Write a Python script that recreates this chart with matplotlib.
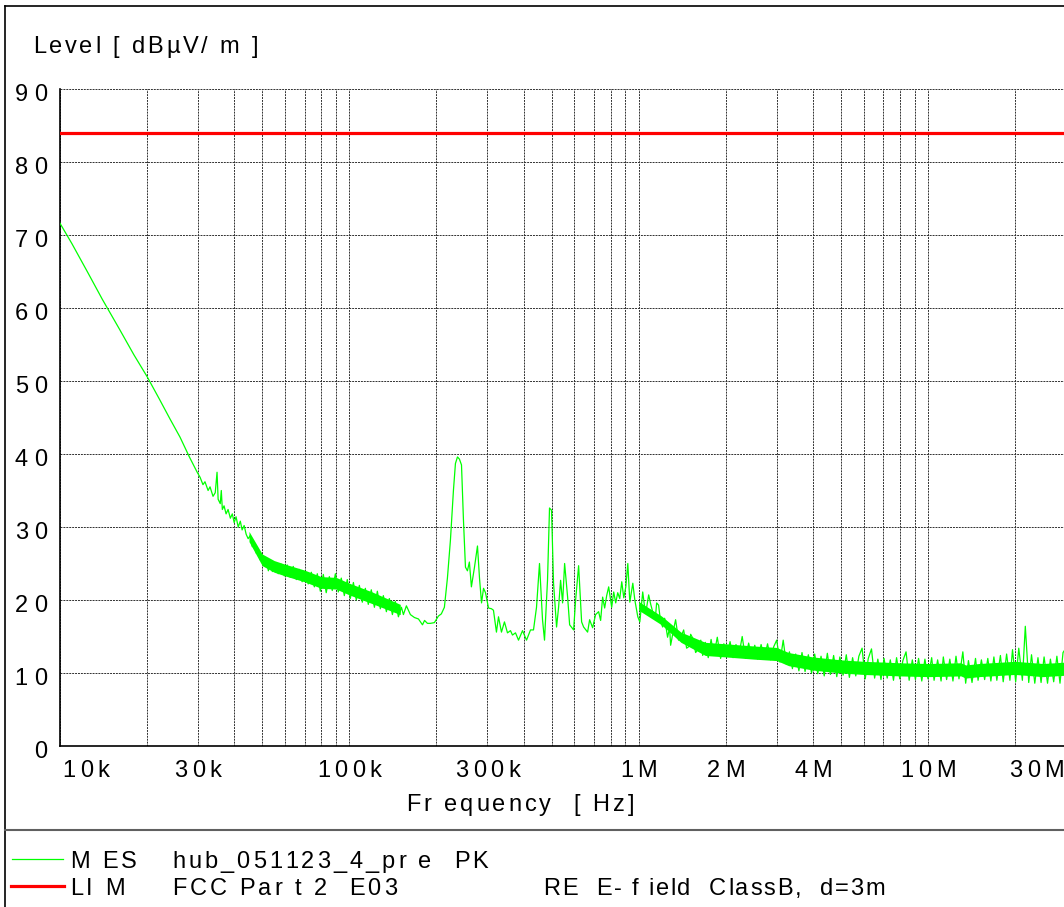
import matplotlib
matplotlib.use('Agg')
import matplotlib.pyplot as plt
import numpy as np
from matplotlib import font_manager, ft2font

plt.rcParams['font.family'] = ['Liberation Sans', 'DejaVu Sans']

# smooth part at the low end (kHz, dBuV/m)
low_khz = [10, 11, 12.5, 14, 16, 18, 20, 22, 24, 26, 28, 29.8]
low_db = [71.6, 68.8, 64.8, 61.2, 57.2, 53.6, 50.6, 47.6, 44.8, 42.3, 39.6, 37.5]

# noisy band 30k - 154k
band_khz = [30.5, 31.2, 31.7, 32.5, 33.0, 33.8, 34.4, 34.9, 35.2, 35.8,
            36.1, 36.4, 36.9, 37.5, 38.1, 38.8, 39.4, 40.0, 40.6, 41.3,
            42.0, 42.6, 43.3, 44.0, 44.7, 45.4, 46.2, 46.9, 47.7, 48.4,
            49.2, 50.0, 50.8, 51.6, 52.5, 53.3, 54.2, 55.5, 56.8, 58.2,
            59.6, 61.0, 62.5, 64.0, 65.6, 67.1, 68.7, 70.4, 72.1, 73.9,
            75.7, 77.5, 79.4, 81.3, 83.2, 85.3, 87.3, 89.5, 91.6, 93.8,
            96.1, 98.4, 100.8, 103.3, 105.7, 108.3, 110.9, 113.6, 116.3, 119.1,
            122.1, 125.0, 128.0, 131.1, 134.3, 137.5, 140.9, 144.2, 147.8, 151.4,
            153.8]
band_db = [36.8, 35.8, 36.2, 35.0, 35.5, 34.2, 34.7, 37.5, 33.8, 33.2,
           35.0, 32.4, 32.9, 31.8, 32.4, 31.2, 31.8, 30.6, 31.4, 30.0,
           30.8, 29.6, 30.2, 29.0, 28.4, 28.8, 27.3, 27.8, 26.4, 26.8,
           25.5, 26.2, 24.8, 25.6, 24.0, 25.4, 23.9, 25.0, 23.6, 24.9,
           23.3, 24.8, 23.1, 24.6, 22.8, 24.2, 22.5, 23.9, 22.2, 23.8,
           21.8, 23.6, 21.2, 23.5, 21.0, 23.2, 21.3, 23.6, 21.1, 23.0,
           20.6, 22.8, 20.2, 22.4, 20.0, 22.0, 19.7, 21.6, 19.4, 21.4,
           19.0, 21.2, 18.8, 20.6, 18.4, 20.2, 18.0, 19.8, 17.7, 19.0,
           18.0]

# peaks region 157k - 1.67M
peak_khz = [157.5, 162.6, 167.9, 173.4, 179, 182, 186.2, 190.6, 196.8, 203.2,
            208, 213.1, 218.3, 223.6, 229, 232.7, 236.5, 240.2, 244.2, 248,
            252, 256, 260, 264.2, 270.8, 277.3, 281.8, 286.4, 291, 295.6,
            302.8, 310, 314.9, 322.5, 327.8, 335.6, 343.7, 352.1, 360.6, 366.4,
            375.3, 384.4, 396.9, 409.7, 422.9, 433.1, 443.6, 454.3, 461.6, 465.3,
            472.8, 484.2, 492, 500, 508, 520.4, 528.8, 537.3, 546, 554.8,
            568.2, 577.4, 596, 605.6, 620.2, 635.2, 645.4, 666.2, 677, 693.3,
            710, 727.2, 739, 750.9, 763, 775.4, 787.9, 806.9, 820, 833.2,
            846.7, 860.4, 874.3, 888.4, 902.8, 917.4, 932.2, 954.7, 970.1, 993.4,
            1009.6, 1033, 1049, 1058, 1083, 1101, 1118, 1145, 1154, 1172,
            1191, 1211, 1230, 1259, 1279, 1290, 1321, 1342, 1374, 1408,
            1431, 1465, 1489, 1513, 1537, 1574, 1600, 1640, 1665]
peak_db = [19.2, 18.0, 17.6, 17.4, 16.6, 17.2, 16.8, 16.8, 16.9, 17.8,
           18.1, 19.0, 23.0, 28.2, 35.0, 38.7, 39.6, 39.3, 38.5, 31.0,
           24.5, 24.0, 25.2, 21.8, 24.5, 27.4, 23.0, 19.6, 21.6, 21.0,
           18.9, 18.8, 18.6, 15.6, 17.7, 15.6, 17.0, 15.5, 15.8, 15.2,
           15.5, 14.5, 15.8, 14.5, 15.9, 15.9, 19.0, 25.0, 20.0, 17.3,
           14.5, 22.7, 32.6, 32.3, 22.3, 16.3, 19.0, 22.7, 19.6, 25.0,
           20.4, 16.6, 15.9, 20.0, 24.7, 17.0, 16.3, 15.6, 17.3, 16.2,
           18.0, 18.4, 17.2, 20.4, 18.9, 20.6, 21.8, 19.0, 21.1, 19.6,
           21.0, 20.2, 22.5, 20.3, 21.8, 25.0, 19.7, 22.3, 20.0, 17.7,
           17.0, 21.1, 19.0, 18.2, 20.7, 19.4, 18.4, 18.0, 19.6, 19.3,
           17.0, 16.3, 17.5, 14.9, 16.2, 13.8, 16.0, 17.3, 14.5, 15.2,
           15.9, 13.4, 13.6, 15.3, 14.8, 12.8, 13.2, 14.5, 12.4]

# high end 1.7M - 30M (MHz)
high_mhz = [1.70, 1.74, 1.78, 1.82, 1.87, 1.92, 1.97, 2.02, 2.07, 2.12,
            2.17, 2.22, 2.28, 2.34, 2.40, 2.46, 2.52, 2.58, 2.65, 2.72,
            2.79, 2.86, 2.93, 3.00, 3.08, 3.16, 3.24, 3.32, 3.40, 3.49,
            3.58, 3.67, 3.76, 3.86, 3.96, 4.06, 4.16, 4.27, 4.38, 4.49,
            4.60, 4.72, 4.84, 4.96, 5.09, 5.22, 5.35, 5.49, 5.63, 5.77,
            5.92, 6.07, 6.22, 6.38, 6.54, 6.71, 6.88, 7.05, 7.23, 7.41,
            7.60, 7.79, 7.99, 8.19, 8.40, 8.61, 8.83, 9.05, 9.28, 9.52,
            9.76, 10.0, 10.3, 10.5, 10.8, 11.1, 11.3, 11.6, 11.9, 12.2,
            12.5, 12.8, 13.2, 13.5, 13.8, 14.2, 14.6, 14.9, 15.3, 15.7,
            16.1, 16.5, 16.9, 17.3, 17.8, 18.2, 18.7, 19.2, 19.6, 20.1,
            20.6, 21.2, 21.7, 22.3, 22.8, 23.4, 24.0, 24.6, 25.2, 25.9,
            26.5, 27.2, 27.9, 28.6, 29.3, 30.0]
high_db = [14.2, 12.1, 14.6, 12.4, 14.9, 12.0, 14.0, 12.3, 14.3, 12.1,
           13.9, 12.4, 15.0, 12.0, 14.1, 12.2, 13.8, 11.9, 13.9, 12.1,
           14.0, 11.8, 13.6, 14.5, 11.5, 14.5, 11.2, 12.9, 10.6, 12.6,
           10.3, 12.8, 10.2, 12.5, 10.0, 12.6, 9.9, 12.3, 9.6, 12.7,
           9.8, 12.4, 9.5, 12.2, 9.7, 12.5, 9.4, 12.1, 9.6, 12.3,
           13.4, 9.2, 12.0, 13.3, 9.3, 11.9, 9.1, 12.0, 9.3, 11.8,
           9.0, 12.1, 9.2, 11.7, 12.9, 9.0, 11.8, 9.1, 12.0, 8.9,
           11.9, 9.2, 12.1, 9.0, 11.8, 8.9, 12.2, 9.1, 11.9, 8.9,
           12.3, 9.2, 12.9, 8.6, 11.7, 8.7, 12.0, 9.0, 11.8, 9.1,
           12.0, 8.9, 12.2, 9.0, 12.4, 8.8, 12.6, 9.0, 13.2, 8.8,
           13.4, 9.0, 16.4, 8.7, 12.5, 8.6, 12.1, 8.7, 12.2, 8.6,
           11.9, 8.8, 12.3, 8.6, 12.8, 13.4]

# core of the dense noise band, Hz
env_hz = [45e3, 50e3, 55e3, 60e3, 70e3, 80e3, 90e3, 100e3, 120e3, 150e3]
env_top = [29.4, 26.3, 25.4, 24.9, 24.1, 23.2, 23.1, 22.3, 21.1, 19.4]
env_bot = [28.0, 24.7, 23.8, 23.3, 22.5, 21.6, 21.5, 20.7, 19.5, 18.0]
env2_hz = [1.0e6, 1.2e6, 1.4e6, 1.7e6, 2.0e6, 2.5e6, 3.0e6, 3.3e6, 4.0e6, 5.0e6,
           6.0e6, 8.0e6, 10e6, 13e6, 13.5e6, 15e6, 20e6, 25e6, 30e6]
env2_top = [19.8, 17.8, 15.6, 14.2, 14.0, 13.7, 13.5, 12.8, 12.2, 11.8,
            11.6, 11.4, 11.3, 11.4, 11.1, 11.3, 11.6, 11.3, 11.5]
env2_bot = [18.6, 16.6, 14.2, 12.4, 12.2, 11.9, 11.7, 11.0, 10.4, 10.0,
            9.8, 9.6, 9.5, 9.6, 9.3, 9.5, 9.8, 9.5, 9.7]

limit_db = 84.0
x_ticks = [1e4, 3e4, 1e5, 3e5, 1e6, 2e6, 4e6, 1e7, 3e7]
x_labels = ['10k', '30k', '100k', '300k', '1M', '2M', '4M', '10M', '30M']
y_ticks = list(range(0, 100, 10))

freq = np.concatenate([np.array(low_khz) * 1e3, np.array(band_khz) * 1e3,
                       np.array(peak_khz) * 1e3, np.array(high_mhz) * 1e6])
level = np.concatenate([low_db, band_db, peak_db, high_db])

W, H = 1064, 907
fig = plt.figure(figsize=(W / 100, H / 100), dpi=100)

ax = fig.add_axes([60 / W, 1 - 746 / H, 1006 / W, (746 - 89) / H])
ax.set_xscale('log')
ax.set_xlim(1e4, 3e7)
ax.set_ylim(0, 90)

ax.fill_between(env_hz, env_bot, env_top, color='#00ff00', lw=0, zorder=3)
ax.fill_between(env2_hz, env2_bot, env2_top, color='#00ff00', lw=0, zorder=3)
ax.plot(freq, level, color='#00ff00', lw=0.9, zorder=3)
ax.axhline(limit_db, color='#ff0000', lw=2.3, zorder=4)

minor = [m * 10 ** e for e in range(4, 8) for m in range(2, 10)
         if 1e4 < m * 10 ** e < 3e7 and m * 10 ** e not in x_ticks]
ax.set_xticks(x_ticks)
ax.set_xticks(minor, minor=True)
ax.set_yticks(y_ticks)
ax.set_xticklabels([])
ax.set_yticklabels([])
ax.tick_params(which='both', length=0)
ax.grid(True, which='both', color='#303030', lw=0.7, ls=(0, (2, 1)))
ax.set_axisbelow(True)
for s in ['top', 'right']:
    ax.spines[s].set_visible(False)
for s in ['left', 'bottom']:
    ax.spines[s].set_linewidth(1.2)

# text with wide letter spacing, like the original print-out
_ft = ft2font.FT2Font(font_manager.findfont('Liberation Sans'))


def spaced(x, y, s, size=17, track=3.0, ha='left'):
    _ft.set_size(size, 100)
    adv = [_ft.load_char(ord(c)).linearHoriAdvance / 65536 for c in s]
    total = sum(adv) + track * (len(s) - 1)
    if ha == 'center':
        x -= total / 2
    elif ha == 'right':
        x -= total
    for c, a in zip(s, adv):
        if c != ' ':
            fig.text(x / W, 1 - y / H, c, fontsize=size, ha='left', va='baseline')
        x += a + track


fig.canvas.draw()
for f, lab in zip(x_ticks, x_labels):
    px = ax.transData.transform((f, 0))[0]
    if lab == '10k':
        spaced(px + 2, 777, lab, track=4.5)
    elif lab == '30M':
        spaced(1064, 777, lab, track=4.5, ha='right')
    else:
        spaced(px, 777, lab, track=4.5, ha='center')
for v in y_ticks:
    py = H - ax.transData.transform((1e4, v))[1]
    spaced(47, py + 12, str(v), track=6, ha='right')

spaced(33, 53, 'Level [ dBµV/ m ]', track=2.8)
spaced(520, 811, 'Fr equency  [ Hz]', ha='center')

# frame and separator
fig.add_artist(plt.Line2D([5 / W, 5 / W], [0, 1 - 6 / H], color='k', lw=1.2))
fig.add_artist(plt.Line2D([5 / W, 1], [1 - 6 / H, 1 - 6 / H], color='k', lw=1.2))
fig.add_artist(plt.Line2D([5 / W, 1], [1 - 830 / H, 1 - 830 / H], color='#606060', lw=1.5))

# legend rows
fig.add_artist(plt.Line2D([12 / W, 63 / W], [1 - 859 / H, 1 - 859 / H], color='#00ff00', lw=0.9))
fig.add_artist(plt.Line2D([11 / W, 64 / W], [1 - 886 / H, 1 - 886 / H], color='#ff0000', lw=2.3))
spaced(70, 868, 'M ES')
spaced(172, 868, 'hub_051123_4_pr e  PK')
spaced(70, 895, 'LI M')
spaced(172, 895, 'FCC Par t 2  E03')
spaced(543, 895, 'RE  E- f ield  ClassB,  d=3m', track=1.8)

fig.savefig('out.png', dpi=100)
